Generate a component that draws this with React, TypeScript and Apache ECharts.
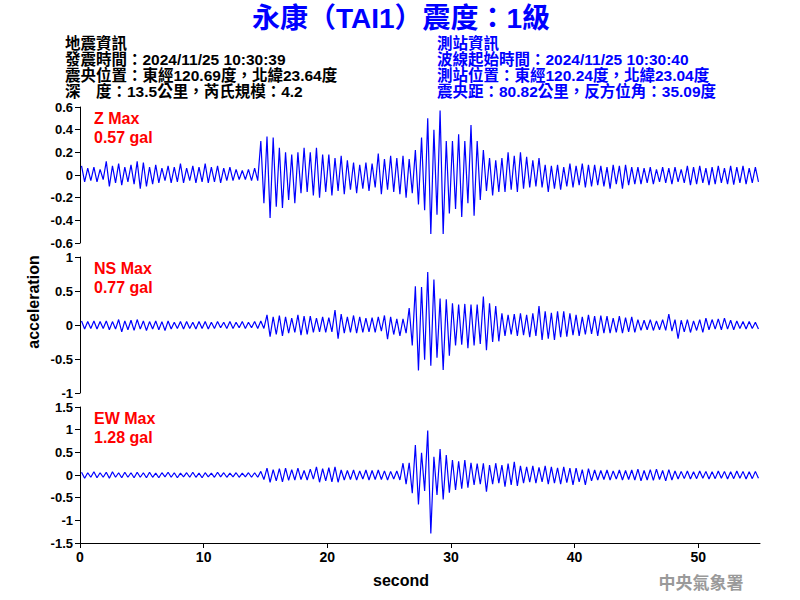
import React, { useEffect, useRef } from "react";
import * as echarts from "echarts";

// Seismogram envelopes: max and min per 0.5 s bin (t = 0 .. 55 s)
const BIN_SECONDS = 0.5;

const Z_MAX = [
  0.08, 0.06, 0.07, 0.05, 0.12, 0.08, 0.10, 0.07, 0.09, 0.12,
  0.11, 0.07, 0.09, 0.06, 0.08, 0.07, 0.10, 0.06, 0.08, 0.07,
  0.10, 0.07, 0.08, 0.06, 0.07, 0.05, 0.04, 0.05, 0.06, 0.30,
  0.34, 0.33, 0.24, 0.20, 0.18, 0.20, 0.24, 0.20, 0.24, 0.18,
  0.18, 0.15, 0.17, 0.13, 0.11, 0.09, 0.11, 0.10, 0.19, 0.14,
  0.17, 0.15, 0.17, 0.14, 0.22, 0.33, 0.50, 0.40, 0.57, 0.30,
  0.30, 0.36, 0.30, 0.44, 0.30, 0.22, 0.15, 0.13, 0.15, 0.20,
  0.17, 0.20, 0.16, 0.13, 0.15, 0.09, 0.08, 0.09, 0.07, 0.10,
  0.08, 0.10, 0.09, 0.09, 0.08, 0.07, 0.09, 0.08, 0.09, 0.07,
  0.07, 0.06, 0.07, 0.05, 0.07, 0.06, 0.07, 0.05, 0.08, 0.07,
  0.08, 0.06, 0.07, 0.08, 0.06, 0.08, 0.07, 0.08, 0.06, 0.07,
];
const Z_MIN = [
  -0.06, -0.05, -0.06, -0.04, -0.10, -0.07, -0.09, -0.06, -0.08, -0.12,
  -0.10, -0.08, -0.07, -0.05, -0.07, -0.06, -0.07, -0.05, -0.07, -0.06,
  -0.07, -0.06, -0.07, -0.05, -0.05, -0.04, -0.04, -0.05, -0.05, -0.25,
  -0.38, -0.28, -0.29, -0.22, -0.25, -0.16, -0.15, -0.18, -0.20, -0.15,
  -0.18, -0.14, -0.17, -0.13, -0.16, -0.12, -0.14, -0.11, -0.17, -0.13,
  -0.15, -0.17, -0.20, -0.16, -0.26, -0.31, -0.52, -0.35, -0.52, -0.34,
  -0.30, -0.37, -0.25, -0.36, -0.22, -0.14, -0.18, -0.15, -0.15, -0.13,
  -0.15, -0.12, -0.11, -0.10, -0.11, -0.15, -0.12, -0.13, -0.10, -0.11,
  -0.09, -0.11, -0.10, -0.09, -0.10, -0.12, -0.08, -0.12, -0.09, -0.08,
  -0.08, -0.07, -0.08, -0.06, -0.07, -0.08, -0.06, -0.07, -0.09, -0.08,
  -0.07, -0.09, -0.08, -0.07, -0.08, -0.085, -0.07, -0.08, -0.07, -0.06,
];

const NS_MAX = [
  0.06, 0.05, 0.06, 0.05, 0.06, 0.05, 0.08, 0.06, 0.07, 0.08,
  0.06, 0.05, 0.06, 0.05, 0.06, 0.04, 0.05, 0.05, 0.04, 0.05,
  0.05, 0.04, 0.05, 0.04, 0.05, 0.04, 0.05, 0.04, 0.05, 0.06,
  0.15, 0.12, 0.14, 0.12, 0.10, 0.15, 0.13, 0.13, 0.10, 0.12,
  0.11, 0.22, 0.16, 0.12, 0.14, 0.12, 0.10, 0.11, 0.12, 0.14,
  0.12, 0.09, 0.09, 0.25, 0.57, 0.56, 0.78, 0.67, 0.39, 0.38,
  0.32, 0.30, 0.31, 0.30, 0.30, 0.42, 0.32, 0.28, 0.17, 0.15,
  0.16, 0.17, 0.15, 0.17, 0.28, 0.20, 0.18, 0.20, 0.20, 0.17,
  0.15, 0.12, 0.15, 0.13, 0.14, 0.13, 0.10, 0.13, 0.11, 0.12,
  0.08, 0.07, 0.08, 0.06, 0.08, 0.16, 0.08, 0.07, 0.08, 0.06,
  0.08, 0.10, 0.08, 0.09, 0.10, 0.07, 0.06, 0.05, 0.05, 0.04,
];
const NS_MIN = [
  -0.06, -0.05, -0.06, -0.05, -0.07, -0.06, -0.10, -0.07, -0.08, -0.06,
  -0.08, -0.06, -0.07, -0.08, -0.06, -0.05, -0.06, -0.05, -0.06, -0.05,
  -0.06, -0.05, -0.04, -0.05, -0.05, -0.04, -0.05, -0.04, -0.05, -0.05,
  -0.17, -0.14, -0.16, -0.12, -0.11, -0.15, -0.14, -0.11, -0.10, -0.11,
  -0.10, -0.20, -0.12, -0.11, -0.12, -0.11, -0.10, -0.11, -0.09, -0.21,
  -0.14, -0.16, -0.12, -0.30, -0.67, -0.51, -0.60, -0.48, -0.66, -0.45,
  -0.30, -0.29, -0.34, -0.30, -0.28, -0.37, -0.25, -0.24, -0.16, -0.14,
  -0.16, -0.15, -0.18, -0.16, -0.22, -0.20, -0.22, -0.18, -0.17, -0.15,
  -0.16, -0.14, -0.13, -0.16, -0.12, -0.12, -0.11, -0.12, -0.10, -0.11,
  -0.08, -0.07, -0.08, -0.07, -0.08, -0.09, -0.20, -0.10, -0.11, -0.08,
  -0.11, -0.07, -0.06, -0.07, -0.06, -0.07, -0.05, -0.06, -0.05, -0.06,
];

const EW_MAX = [
  0.06, 0.05, 0.07, 0.05, 0.06, 0.07, 0.05, 0.06, 0.05, 0.06,
  0.05, 0.06, 0.04, 0.05, 0.06, 0.05, 0.04, 0.05, 0.06, 0.04,
  0.05, 0.04, 0.06, 0.05, 0.04, 0.05, 0.04, 0.05, 0.05, 0.08,
  0.15, 0.12, 0.14, 0.15, 0.12, 0.15, 0.10, 0.13, 0.18, 0.14,
  0.16, 0.18, 0.11, 0.10, 0.11, 0.09, 0.11, 0.10, 0.11, 0.09,
  0.08, 0.09, 0.26, 0.27, 0.66, 0.49, 0.98, 0.40, 0.57, 0.44,
  0.33, 0.30, 0.33, 0.27, 0.25, 0.26, 0.22, 0.26, 0.22, 0.25,
  0.29, 0.20, 0.18, 0.20, 0.17, 0.20, 0.18, 0.16, 0.18, 0.15,
  0.15, 0.12, 0.14, 0.11, 0.10, 0.11, 0.09, 0.11, 0.10, 0.11,
  0.13, 0.10, 0.12, 0.13, 0.10, 0.12, 0.09, 0.08, 0.09, 0.07,
  0.09, 0.08, 0.07, 0.09, 0.08, 0.07, 0.09, 0.08, 0.07, 0.08,
];
const EW_MIN = [
  -0.07, -0.05, -0.06, -0.05, -0.07, -0.05, -0.06, -0.05, -0.06, -0.05,
  -0.06, -0.05, -0.06, -0.04, -0.05, -0.06, -0.04, -0.05, -0.05, -0.06,
  -0.04, -0.05, -0.04, -0.05, -0.04, -0.05, -0.04, -0.05, -0.05, -0.10,
  -0.16, -0.13, -0.15, -0.12, -0.11, -0.10, -0.11, -0.09, -0.16, -0.13,
  -0.15, -0.16, -0.11, -0.10, -0.11, -0.09, -0.11, -0.10, -0.10, -0.11,
  -0.09, -0.11, -0.20, -0.40, -0.65, -0.35, -1.29, -0.44, -0.54, -0.39,
  -0.33, -0.30, -0.28, -0.22, -0.20, -0.37, -0.20, -0.18, -0.26, -0.22,
  -0.24, -0.18, -0.16, -0.18, -0.15, -0.20, -0.18, -0.20, -0.17, -0.22,
  -0.15, -0.22, -0.13, -0.11, -0.10, -0.11, -0.09, -0.11, -0.10, -0.11,
  -0.13, -0.11, -0.12, -0.10, -0.13, -0.11, -0.09, -0.08, -0.09, -0.08,
  -0.07, -0.09, -0.08, -0.07, -0.09, -0.08, -0.07, -0.09, -0.08, -0.07,
];

const X_TICKS = [0, 10, 20, 30, 40, 50];
const X_MAX = 55;

const PANELS = [
  { name: "Z", max: Z_MAX, min: Z_MIN, yMin: -0.6, yMax: 0.6, yStep: 0.2, peak: "0.57 gal" },
  { name: "NS", max: NS_MAX, min: NS_MIN, yMin: -1, yMax: 1, yStep: 0.5, peak: "0.77 gal" },
  { name: "EW", max: EW_MAX, min: EW_MIN, yMin: -1.5, yMax: 1.5, yStep: 0.5, peak: "1.28 gal" },
];

const TITLE = "永康（TAI1）震度：1級";
const QUAKE_INFO = [
  "地震資訊",
  "發震時間：2024/11/25 10:30:39",
  "震央位置：東經120.69度，北緯23.64度",
  "深　度：13.5公里，芮氏規模：4.2",
];
const STATION_INFO = [
  "測站資訊",
  "波線起始時間：2024/11/25 10:30:40",
  "測站位置：東經120.24度，北緯23.04度",
  "震央距：80.82公里，反方位角：35.09度",
];

const LATIN = "'Liberation Sans', Arial, 'Noto Sans CJK TC', sans-serif";
const BLUE = "#0000ff";

function trace(maxs: number[], mins: number[]) {
  const pts: [number, number][] = [];
  for (let i = 0; i < maxs.length; i++) {
    const t0 = i * BIN_SECONDS;
    pts.push([t0 + BIN_SECONDS * 0.25, maxs[i]]);
    pts.push([t0 + BIN_SECONDS * 0.75, mins[i]]);
  }
  return pts;
}

export default function App() {
  const ref = useRef<HTMLDivElement>(null);
  useEffect(() => {
    if (!ref.current) return;
    const chart = echarts.init(ref.current, undefined, { renderer: "svg" });
    const tops = [107, 257, 407];
    const grids = PANELS.map((_, i) => ({ left: 80, width: 680, top: tops[i], height: 136 }));
    const fmt = (v: number) => String(Number(v.toFixed(1)));
    const xAxes = PANELS.map((_, i) => {
      const last = i === PANELS.length - 1;
      return {
        type: "value",
        gridIndex: i,
        min: 0,
        max: X_MAX,
        interval: 10,
        show: last,
        axisLine: { show: last, onZero: false, lineStyle: { color: "#000", width: 1 } },
        axisTick: { show: last, length: 5, lineStyle: { color: "#000" }, customValues: X_TICKS },
        axisLabel: {
          show: last,
          color: "#000",
          fontWeight: "bold",
          fontSize: 14,
          fontFamily: LATIN,
          margin: 7,
          customValues: X_TICKS,
        },
        splitLine: { show: false },
      };
    });
    const yAxes = PANELS.map((p, i) => ({
      type: "value",
      gridIndex: i,
      min: p.yMin,
      max: p.yMax,
      interval: p.yStep,
      axisLine: { show: true, onZero: false, lineStyle: { color: "#000", width: 1 } },
      axisTick: { show: true, length: 5, lineStyle: { color: "#000" } },
      axisLabel: {
        color: "#000",
        fontWeight: "bold",
        fontSize: 13,
        fontFamily: LATIN,
        margin: 7,
        formatter: fmt,
      },
      splitLine: { show: false },
    }));
    const series = PANELS.map((p, i) => ({
      type: "line",
      xAxisIndex: i,
      yAxisIndex: i,
      data: trace(p.max, p.min),
      showSymbol: false,
      symbol: "none",
      lineStyle: { color: BLUE, width: 1.2 },
      silent: true,
    }));
    const graphics: any[] = [
      {
        type: "text",
        x: 401,
        y: 18,
        style: {
          text: TITLE,
          fill: BLUE,
          font: `bold 28px ${LATIN}`,
          textAlign: "center",
          textVerticalAlign: "middle",
        },
      },
    ];
    const lineYs = [43, 59, 75, 91];
    QUAKE_INFO.forEach((t, k) =>
      graphics.push({
        type: "text",
        x: 65,
        y: lineYs[k],
        style: { text: t, fill: "#000", font: `bold 15.5px ${LATIN}`, textVerticalAlign: "middle" },
      })
    );
    STATION_INFO.forEach((t, k) =>
      graphics.push({
        type: "text",
        x: 437,
        y: lineYs[k],
        style: { text: t, fill: BLUE, font: `bold 15.5px ${LATIN}`, textVerticalAlign: "middle" },
      })
    );
    PANELS.forEach((p, i) => {
      graphics.push({
        type: "text",
        x: 94,
        y: tops[i] + 11,
        style: { text: `${p.name} Max`, fill: "#ff0000", font: `bold 16px ${LATIN}`, textVerticalAlign: "middle" },
      });
      graphics.push({
        type: "text",
        x: 94,
        y: tops[i] + 30,
        style: { text: p.peak, fill: "#ff0000", font: `bold 16px ${LATIN}`, textVerticalAlign: "middle" },
      });
    });
    graphics.push({
      type: "text",
      x: 33,
      y: 302,
      rotation: Math.PI / 2,
      style: {
        text: "acceleration",
        fill: "#000",
        font: `bold 16px ${LATIN}`,
        textAlign: "center",
        textVerticalAlign: "middle",
      },
    });
    graphics.push({
      type: "text",
      x: 401,
      y: 580,
      style: {
        text: "second",
        fill: "#000",
        font: `bold 16px ${LATIN}`,
        textAlign: "center",
        textVerticalAlign: "middle",
      },
    });
    graphics.push({
      type: "text",
      x: 701,
      y: 581,
      style: {
        text: "中央氣象署",
        fill: "#9a9a9a",
        font: "bold 17px 'Noto Sans CJK TC', sans-serif",
        textAlign: "center",
        textVerticalAlign: "middle",
      },
    });
    chart.setOption({
      animation: false,
      backgroundColor: "#fff",
      grid: grids,
      xAxis: xAxes,
      yAxis: yAxes,
      series,
      graphic: graphics,
    });
    return () => chart.dispose();
  }, []);
  return (
    <div
      ref={ref}
      style={{ position: "absolute", left: 0, top: 0, width: 800, height: 600, background: "#fff" }}
    />
  );
}
